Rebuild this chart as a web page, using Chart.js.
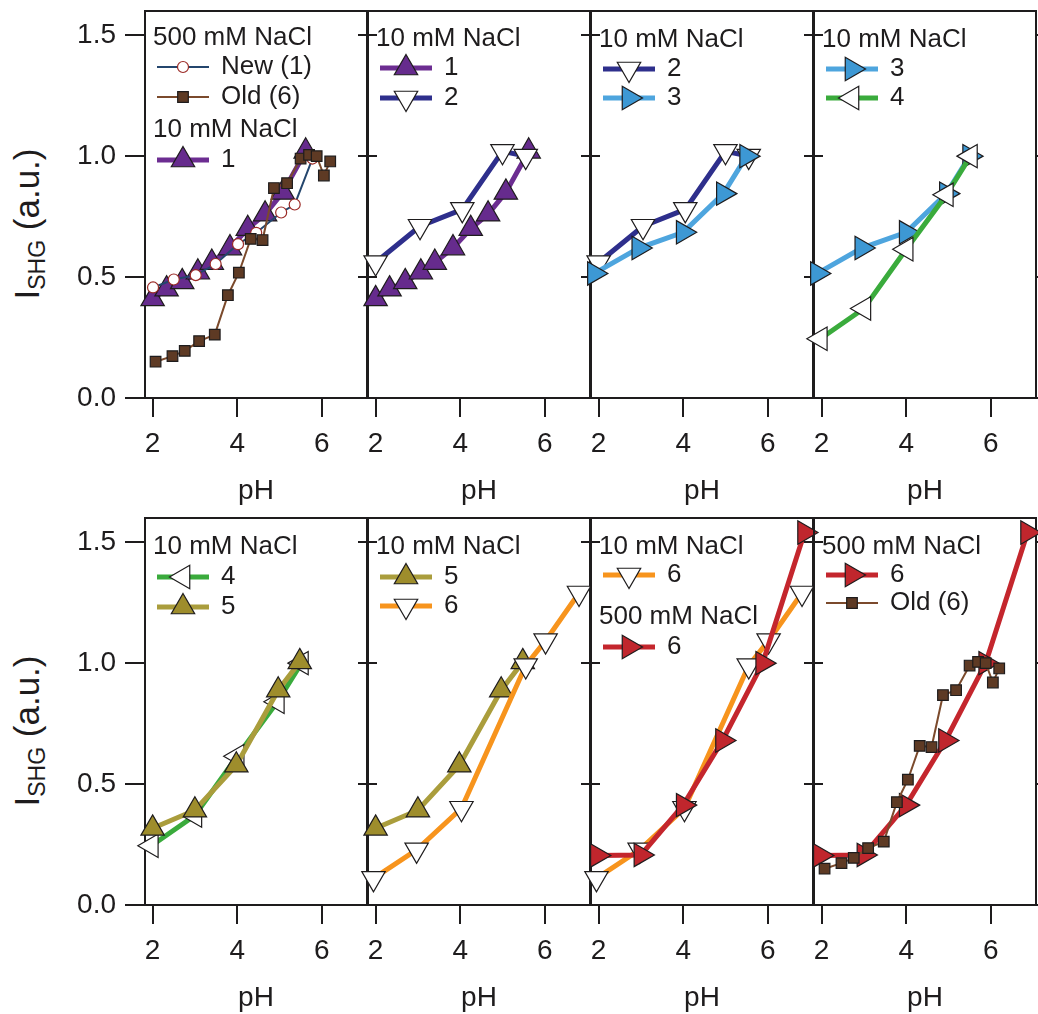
<!DOCTYPE html>
<html>
<head>
<meta charset="utf-8">
<script src="https://cdn.jsdelivr.net/npm/chart.js@4.4.1/dist/chart.umd.min.js"></script>
<style>
  body { margin: 0; width: 1038px; height: 1014px; background: #fff; position: relative; overflow: hidden;
         font-family: 'Liberation Sans', Arial, sans-serif; color: #1e1c1d; }
  canvas { position: absolute; }
  .ytitle { position: absolute; font-size: 35px; white-space: nowrap; transform: translate(-50%, -50%) rotate(-90deg); }
  .ytitle sub { font-size: 23px; vertical-align: -6px; }
</style>
</head>
<body>
<div class="ytitle" style="left:29px; top:224px">I<sub>SHG</sub> (a.u.)</div>
<div class="ytitle" style="left:29px; top:731px">I<sub>SHG</sub> (a.u.)</div>
<script>
// axes
const xTicks = [2, 4, 6];
const yTicks = [0, 0.5, 1.0, 1.5];
const xRange = [1.82, 7.07];
const yRange = [0, 1.6];

// 500 mM NaCl, new sample (1)
const new1pH = [2.01, 2.5, 3.02, 3.49, 4.02, 4.45, 5.04, 5.36, 5.78];
const new1I  = [0.457, 0.49, 0.508, 0.554, 0.636, 0.683, 0.767, 0.80, 0.99];
// 500 mM NaCl, old sample (6)
const old6pH = [2.07, 2.47, 2.76, 3.1, 3.47, 3.78, 4.04, 4.32, 4.6, 4.87, 5.18, 5.5, 5.7, 5.88, 6.05, 6.2];
const old6I  = [0.15, 0.173, 0.195, 0.235, 0.262, 0.425, 0.518, 0.658, 0.653, 0.868, 0.888, 0.99, 1.005, 1.0, 0.92, 0.978];
// 10 mM NaCl, samples 1..6
const s1pH = [2.0, 2.33, 2.7, 3.07, 3.4, 3.83, 4.25, 4.66, 5.08, 5.62];
const s1I  = [0.41, 0.45, 0.48, 0.52, 0.56, 0.62, 0.70, 0.76, 0.85, 1.02];
const s2pH = [2.0, 3.05, 4.05, 5.0, 5.55];
const s2I  = [0.56, 0.71, 0.78, 1.02, 1.0];
const s3pH = [1.9, 2.95, 4.0, 4.95, 5.5];
const s3I  = [0.515, 0.62, 0.685, 0.845, 1.0];
const s4pH = [1.97, 3.0, 4.0, 4.95, 5.52];
const s4I  = [0.245, 0.37, 0.615, 0.84, 1.0];
const s5pH = [2.0, 3.0, 3.98, 4.97, 5.48];
const s5I  = [0.317, 0.392, 0.578, 0.888, 1.005];
const s6pH = [1.95, 2.97, 4.03, 5.55, 6.02, 6.81];
const s6I  = [0.11, 0.228, 0.40, 0.99, 1.093, 1.29];
// 500 mM NaCl, sample 6
const h6pH = [1.97, 3.0, 4.0, 4.93, 5.88, 6.87];
const h6I  = [0.205, 0.207, 0.413, 0.68, 1.0, 1.54];

const ink = '#1e1c1d';
const family = "'Liberation Sans', Arial, sans-serif";

const series = {
  new1: { label: 'New (1)', pH: new1pH, I: new1I, line: '#24466d', lw: 2, fill: '#ffffff', edge: '#9b2a26', shape: 'circle', r: 5.5, rot: 0 },
  old6: { label: 'Old (6)', pH: old6pH, I: old6I, line: '#7b4a2c', lw: 2, fill: '#5e3a24', edge: ink, shape: 'rect', r: 7.5, rot: 0 },
  s1: { label: '1', pH: s1pH, I: s1I, line: '#6c2d91', lw: 5, fill: '#662b8d', edge: ink, shape: 'triangle', r: 13.5, rot: 0 },
  s2: { label: '2', pH: s2pH, I: s2I, line: '#2e2f8c', lw: 5, fill: '#ffffff', edge: ink, shape: 'triangle', r: 13.5, rot: 180 },
  s3: { label: '3', pH: s3pH, I: s3I, line: '#4ea5de', lw: 5, fill: '#3d98d4', edge: ink, shape: 'triangle', r: 13.5, rot: 90 },
  s4: { label: '4', pH: s4pH, I: s4I, line: '#3aab3c', lw: 5, fill: '#ffffff', edge: ink, shape: 'triangle', r: 13.5, rot: 270 },
  s5: { label: '5', pH: s5pH, I: s5I, line: '#aa9d3c', lw: 5, fill: '#9e8d2c', edge: ink, shape: 'triangle', r: 13.5, rot: 0 },
  s6: { label: '6', pH: s6pH, I: s6I, line: '#f7941d', lw: 5, fill: '#ffffff', edge: ink, shape: 'triangle', r: 13.5, rot: 180 },
  h6: { label: '6', pH: h6pH, I: h6I, line: '#c4262d', lw: 5, fill: '#c0262d', edge: ink, shape: 'triangle', r: 13.5, rot: 90 },
};

// legend rows: string = group header, otherwise series key; dy from plot top
const panels = [
  { row: 0, col: 0, draw: ['old6', 'new1', 's1'],
    legend: [['500 mM NaCl', 27], ['new1', 56], ['old6', 86], ['10 mM NaCl', 119], ['s1', 149]] },
  { row: 0, col: 1, draw: ['s2', 's1'], legend: [['10 mM NaCl', 28], ['s1', 57], ['s2', 87]] },
  { row: 0, col: 2, draw: ['s3', 's2'], legend: [['10 mM NaCl', 29], ['s2', 58], ['s3', 87]] },
  { row: 0, col: 3, draw: ['s4', 's3'], legend: [['10 mM NaCl', 29], ['s3', 58], ['s4', 87]] },
  { row: 1, col: 0, draw: ['s5', 's4'], legend: [['10 mM NaCl', 29], ['s4', 59], ['s5', 89]] },
  { row: 1, col: 1, draw: ['s6', 's5'], legend: [['10 mM NaCl', 29], ['s5', 59], ['s6', 88]] },
  { row: 1, col: 2, draw: ['h6', 's6'], legend: [['10 mM NaCl', 29], ['s6', 57], ['500 mM NaCl', 99], ['h6', 129]] },
  { row: 1, col: 3, draw: ['old6', 'h6'], legend: [['500 mM NaCl', 29], ['h6', 57], ['old6', 85]] },
];

const colLeft = [145, 368, 591, 814];
const rowTop = [11, 518];
const plotW = 222, plotH = 387;

function drawMarker(ctx, o, x, y) {
  if (Chart.helpers && Chart.helpers.drawPoint) {
    Chart.helpers.drawPoint(ctx, o, x, y);
  }
}

const panelLegend = {
  id: 'panelLegend',
  afterDatasetsDraw(chart, args, opts) {
    const ctx = chart.ctx;
    const a = chart.chartArea;
    ctx.save();
    ctx.font = '26px ' + family;
    ctx.textBaseline = 'middle';
    opts.rows.forEach(([item, dy]) => {
      const y = a.top + dy;
      const s = series[item];
      if (!s) {
        ctx.fillStyle = ink;
        ctx.fillText(item, a.left + 8, y);
        return;
      }
      ctx.strokeStyle = s.line;
      ctx.lineWidth = s.lw;
      ctx.beginPath();
      ctx.moveTo(a.left + 12, y);
      ctx.lineTo(a.left + 64, y);
      ctx.stroke();
      ctx.fillStyle = s.fill;
      ctx.strokeStyle = s.edge;
      ctx.lineWidth = 1.2;
      drawMarker(ctx, { pointStyle: s.shape, radius: s.r, rotation: s.rot, borderWidth: 1.2 }, a.left + 38, y);
      ctx.fillStyle = ink;
      ctx.fillText(s.label, a.left + 76, y);
    });
    ctx.restore();
  }
};

panels.forEach(p => {
  const padL = p.col === 0 ? 145 : 40;
  const padR = 40, padT = 40, padB = 110;
  const cv = document.createElement('canvas');
  cv.width = padL + plotW + padR;
  cv.height = padT + plotH + padB;
  cv.style.left = (colLeft[p.col] - padL) + 'px';
  cv.style.top = (rowTop[p.row] - padT) + 'px';
  document.body.appendChild(cv);

  const datasets = p.draw.map(k => {
    const s = series[k];
    return {
      label: s.label,
      data: s.pH.map((v, i) => ({ x: v, y: s.I[i] })),
      showLine: true,
      borderColor: s.line,
      borderWidth: s.lw,
      pointStyle: s.shape,
      pointRadius: s.r,
      pointRotation: s.rot,
      pointBackgroundColor: s.fill,
      pointBorderColor: s.edge,
      pointBorderWidth: 1.2,
      clip: false,
    };
  });

  const tickFont = { size: 28, family };
  const edge = { display: true, color: ink, width: 2 };

  new Chart(cv.getContext('2d'), {
    type: 'scatter',
    data: { datasets },
    plugins: [panelLegend],
    options: {
      responsive: false,
      animation: false,
      layout: { padding: 0 },
      plugins: {
        legend: { display: false },
        tooltip: { enabled: false },
        panelLegend: { rows: p.legend },
      },
      scales: {
        x: {
          type: 'linear', position: 'bottom', min: xRange[0], max: xRange[1],
          afterBuildTicks: s => { s.ticks = xTicks.map(v => ({ value: v })); },
          afterFit: s => { s.height = padB; },
          ticks: { font: tickFont, color: ink, padding: 10, maxRotation: 0, callback: v => String(v) },
          grid: { drawOnChartArea: false, drawTicks: true, tickLength: 19, color: ink, lineWidth: 2 },
          border: edge,
          title: { display: true, text: 'pH', font: tickFont, color: ink, padding: 0 },
        },
        xTop: {
          type: 'linear', position: 'top', min: xRange[0], max: xRange[1],
          afterFit: s => { s.height = padT; },
          ticks: { display: false },
          grid: { drawOnChartArea: false, drawTicks: false },
          border: edge,
        },
        y: {
          type: 'linear', position: 'left', min: yRange[0], max: yRange[1],
          afterBuildTicks: s => { s.ticks = yTicks.map(v => ({ value: v })); },
          afterFit: s => { s.width = padL; },
          ticks: { display: p.col === 0, font: tickFont, color: ink, padding: 9, callback: v => v.toFixed(1) },
          grid: { drawOnChartArea: false, drawTicks: true, tickLength: p.col === 0 ? 20 : 10, color: ink, lineWidth: 2 },
          border: edge,
        },
        yRight: {
          type: 'linear', position: 'right', min: yRange[0], max: yRange[1],
          afterBuildTicks: s => { s.ticks = yTicks.map(v => ({ value: v })); },
          afterFit: s => { s.width = padR; },
          ticks: { display: false },
          grid: { drawOnChartArea: false, drawTicks: true, tickLength: 10, color: ink, lineWidth: 2 },
          border: edge,
        },
      },
    },
  });
});
</script>
</body>
</html>
